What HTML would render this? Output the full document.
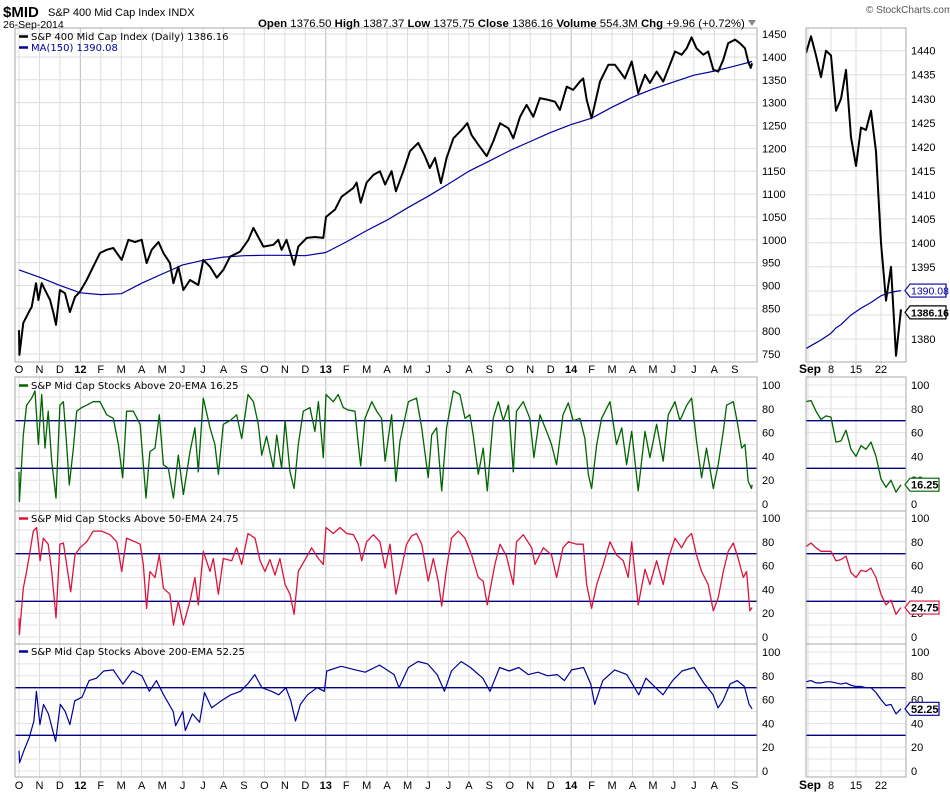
<!DOCTYPE html>
<html><head><meta charset="utf-8"><style>
body{margin:0;background:#fff}
svg{display:block}
text{font-family:"Liberation Sans",sans-serif;font-size:11px;fill:#000}
.lg{font-family:"DejaVu Sans",sans-serif;font-size:10px}
</style></head><body>
<svg id="c" width="950" height="795" viewBox="0 0 950 795" xmlns="http://www.w3.org/2000/svg">
<defs>
<clipPath id="clipL"><rect x="15" y="28" width="742" height="750"/></clipPath>
<clipPath id="clipR"><rect x="806" y="28" width="100" height="750"/></clipPath>
</defs>
<g id="grid"></g>
<g id="lines"></g>
<g id="frames"></g>
<g id="labels"></g>
<text x="3" y="17" style="font-size:15px;font-weight:bold">$MID</text>
<text x="48" y="16" style="font-size:11px">S&amp;P 400 Mid Cap Index INDX</text>
<text x="3" y="28" style="font-size:10.5px">26-Sep-2014</text>
<text x="258" y="27" style="font-size:11.4px"><tspan font-weight="bold">Open</tspan> 1376.50 <tspan font-weight="bold">High</tspan> 1387.37 <tspan font-weight="bold">Low</tspan> 1375.75 <tspan font-weight="bold">Close</tspan> 1386.16 <tspan font-weight="bold">Volume</tspan> 554.3M <tspan font-weight="bold">Chg</tspan> +9.96 (+0.72%)</text>
<polygon points="748,20 756,20 752,26" fill="#888"/>
<text x="866" y="13" style="font-size:10px;fill:#555">© StockCharts.com</text>
</svg>
<script>
// ---- data (t = months since 1-Oct-2011) ----
const priceT=[0,0.02,0.21,0.46,0.62,0.83,0.95,1.11,1.27,1.52,1.68,1.81,2.0,2.25,2.49,2.74,2.98,3.31,3.63,3.96,4.29,4.61,5.02,5.35,5.67,6.0,6.24,6.49,6.82,7.06,7.38,7.55,7.79,8.04,8.36,8.77,9.01,9.34,9.67,9.99,10.32,10.81,11.22,11.46,11.7,11.95,12.44,12.68,12.84,13.08,13.45,13.66,14.07,14.47,14.88,15.01,15.45,15.77,16.34,16.51,16.71,17.0,17.33,17.65,17.9,18.22,18.43,18.79,19.12,19.52,19.85,20.09,20.34,20.63,20.91,21.24,21.64,21.92,22.13,22.46,22.87,23.19,23.52,23.93,24.17,24.5,24.82,25.15,25.47,25.88,26.21,26.45,26.78,27.1,27.43,27.59,27.76,28.0,28.41,28.82,29.14,29.39,29.63,29.96,30.28,30.61,30.85,31.18,31.5,31.83,32.08,32.4,32.65,32.89,33.13,33.46,33.7,33.95,34.19,34.44,34.68,35.01,35.25,35.5,35.66,35.78,35.85];
const priceV=[802,748,818,840,853,905,868,905,890,868,840,814,890,883,842,875,886,912,941,971,978,982,956,1000,995,1000,949,978,995,971,949,905,941,890,912,901,956,941,917,934,963,974,1000,1026,1006,985,989,1000,978,1000,945,985,1004,1006,1004,1050,1066,1094,1113,1125,1081,1125,1142,1150,1121,1150,1106,1150,1194,1212,1183,1157,1179,1124,1179,1222,1240,1255,1229,1208,1183,1215,1255,1244,1222,1269,1295,1269,1310,1306,1302,1284,1335,1328,1346,1353,1306,1266,1346,1383,1383,1368,1353,1390,1321,1361,1343,1368,1346,1383,1412,1405,1419,1443,1419,1405,1412,1372,1368,1394,1430,1438,1430,1419,1390,1376,1386];
const maT=[0,1,2,3,4,5,6,7,8,9,10,11,12,13,14,15,16,17,18,19,20,21,22,23,24,25,26,27,28,29,30,31,32,33,34,35,35.85];
const maV=[934,918,900,884,880,882,905,925,945,955,962,965,966,966,965,972,995,1020,1043,1070,1095,1122,1150,1172,1195,1215,1235,1252,1266,1290,1312,1330,1345,1360,1369,1380,1390];
const e20T=[0,0.02,0.21,0.37,0.62,0.78,0.95,1.11,1.27,1.43,1.6,1.81,2.0,2.17,2.33,2.46,2.66,2.82,3.06,3.31,3.63,3.96,4.29,4.61,4.86,5.07,5.26,5.59,5.92,6.21,6.4,6.65,6.86,7.06,7.3,7.55,7.79,8.04,8.36,8.6,8.77,9.01,9.34,9.58,9.75,9.99,10.32,10.64,10.89,11.2,11.46,11.7,11.87,12.11,12.44,12.6,12.84,13.01,13.25,13.45,13.66,13.9,14.23,14.47,14.64,14.88,15.01,15.37,15.61,15.86,16.1,16.43,16.59,16.71,16.92,17.25,17.49,17.73,17.9,18.22,18.43,18.63,19.04,19.44,19.69,20.01,20.18,20.42,20.67,20.91,21.24,21.56,21.81,22.05,22.21,22.46,22.7,22.9,23.19,23.44,23.68,23.93,24.17,24.33,24.66,24.98,25.18,25.47,25.8,26.04,26.29,26.6,26.86,27.1,27.43,27.67,27.84,28.0,28.25,28.49,28.9,29.22,29.47,29.71,29.96,30.28,30.61,30.85,31.18,31.5,31.75,32.08,32.32,32.65,32.89,33.13,33.38,33.62,33.95,34.19,34.44,34.6,34.93,35.09,35.34,35.5,35.66,35.82,35.85];
const e20V=[27,2,58,83,89,95,50,92,47,78,36,5,83,86,50,16,47,78,81,83,86,86,75,72,50,22,78,78,67,5,44,47,75,33,30,5,41,8,44,64,27,89,64,50,25,67,70,75,55,92,86,67,41,57,30,58,30,70,27,13,50,78,81,61,86,39,92,86,92,81,79,78,50,32,72,86,78,72,36,75,19,53,86,89,64,22,58,64,11,64,95,92,72,75,58,25,47,11,72,86,70,83,27,78,86,72,39,75,61,50,33,75,85,70,72,55,25,13,50,72,86,50,64,33,61,11,61,39,67,36,75,86,70,83,89,53,22,47,13,33,61,83,86,72,47,50,19,13,16.25];
const e50T=[0,0.02,0.21,0.37,0.54,0.7,0.86,1.03,1.19,1.43,1.6,1.81,2.0,2.17,2.33,2.53,2.74,2.98,3.31,3.63,4.04,4.45,4.78,5.02,5.26,5.67,5.92,6.08,6.24,6.4,6.65,6.86,7.06,7.38,7.55,7.79,8.04,8.36,8.6,8.77,9.01,9.34,9.5,9.75,9.99,10.4,10.64,10.89,11.2,11.54,11.79,12.03,12.27,12.52,12.76,13.01,13.25,13.45,13.66,13.99,14.31,14.64,14.88,15.01,15.37,15.7,16.02,16.35,16.59,16.76,17.0,17.33,17.65,17.9,18.14,18.43,18.71,18.95,19.2,19.44,19.69,20.01,20.26,20.5,20.67,20.91,21.15,21.48,21.81,22.13,22.46,22.7,22.9,23.27,23.52,23.84,24.17,24.33,24.66,25.07,25.23,25.64,26.04,26.29,26.6,26.86,27.27,27.59,27.76,28.0,28.25,28.57,28.9,29.22,29.55,29.79,29.96,30.28,30.61,30.85,31.18,31.5,31.75,32.08,32.4,32.65,32.89,33.13,33.38,33.7,33.95,34.19,34.44,34.68,34.93,35.17,35.42,35.58,35.74,35.85];
const e50V=[16,2,41,55,72,89,92,64,83,78,55,16,78,79,61,38,69,75,80,89,89,86,80,55,83,80,78,61,24,55,50,69,41,36,10,30,10,30,50,27,72,55,66,36,66,64,75,61,87,83,64,55,65,52,66,44,36,19,55,65,75,66,61,92,87,92,87,86,78,64,80,86,80,58,78,36,58,78,85,87,78,47,66,47,26,58,83,89,83,69,50,47,27,61,78,68,44,80,86,75,61,75,69,50,75,80,78,78,44,24,44,61,80,69,64,50,80,27,57,44,64,44,66,83,75,83,87,69,55,44,22,33,55,72,79,66,50,55,22,24.75];
const e200T=[0,0.03,0.26,0.5,0.73,0.85,1.02,1.2,1.44,1.79,2.02,2.26,2.49,2.73,3.08,3.43,3.79,4.14,4.61,5.08,5.55,6.01,6.37,6.72,7.07,7.54,7.66,8.01,8.13,8.48,8.83,9.07,9.42,9.89,10.36,10.83,11.18,11.53,11.88,12.35,12.7,13.05,13.29,13.52,13.76,14.11,14.58,14.93,15.05,15.75,16.46,16.93,17.63,18.34,18.58,19.04,19.51,19.98,20.45,20.8,21.15,21.62,22.08,22.68,23.03,23.5,23.97,24.44,24.91,25.38,25.85,26.32,26.67,27.02,27.61,27.96,28.15,28.55,29.13,29.72,30.31,30.66,31.13,31.49,31.96,32.42,33.01,33.48,33.94,34.18,34.42,34.77,35.12,35.47,35.7,35.85];
const e200V=[17,7,18,28,42,67,39,56,48,25,56,50,39,59,62,76,78,84,85,73,84,80,67,76,64,50,38,50,34,48,41,66,53,59,64,67,73,81,70,67,64,70,59,42,56,64,70,67,84,88,85,83,89,81,70,87,92,90,81,67,84,92,87,78,67,87,84,87,81,83,80,81,76,85,87,73,56,76,85,81,64,78,70,64,76,84,87,74,64,53,59,73,76,71,56,52.25];
// Sep 2014 detail (daily, Aug 29 .. Sep 26)
const sepPrice=[1439.5,1443,1439,1434.5,1440,1439,1427.5,1430,1436,1422,1416,1424,1423.5,1427.5,1419,1400,1388,1395,1376.5,1386.16];
const sepMA=[1378,1378.6,1379.2,1379.8,1380.5,1381.2,1382.3,1383,1384,1385,1385.7,1386.4,1387,1387.6,1388.3,1389,1389.4,1389.7,1389.9,1390.08];
const sep20=[86,87,78,71,74,73,52,53,62,46,40,49,46,52,40,21,14,20,10,16.25];
const sep50=[76,79,75,72,72,72,64,65,68,54,50,56,55,58,50,36,27,31,19,24.75];
const sep200=[75,76,74,74,75,75,74,73,74,72,71,71,70,70,66,60,55,56,48,52.25];
const monthLabels=['O','N','D','12','F','M','A','M','J','J','A','S','O','N','D','13','F','M','A','M','J','J','A','S','O','N','D','14','F','M','A','M','J','J','A','S'];
const priceTicks=[750,800,850,900,950,1000,1050,1100,1150,1200,1250,1300,1350,1400,1450];
const sepPriceTicks=[1380,1385,1390,1395,1400,1405,1410,1415,1420,1425,1430,1435,1440];
const oscTicks=[0,20,40,60,80,100];
const sepDayLabels=['8','15','22'];
const sepDayIdx=[5,10,15];

// ---- axis functions ----
const xL=t=>19+t*20.45;
const yP=v=>354-(v-750)*0.457;
const xR=i=>806+i*5;
const yRP=v=>50.7+(1440-v)*4.805;
const oscTop=[385,518,652];
const yO=(p,v)=>oscTop[p]+(100-v)*1.19;

const NS='http://www.w3.org/2000/svg';
const G=id=>document.getElementById(id);
function mk(tag,attrs,parent){const e=document.createElementNS(NS,tag);for(const k in attrs)e.setAttribute(k,attrs[k]);G(parent).appendChild(e);return e;}

for(let m=0;m<monthLabels.length;m++){
  const x=xL(m);
  const yr=/\d/.test(monthLabels[m]);
  [[28,362],[377,777]].forEach(r=>{
    const l=mk('line',{x1:x,x2:x,y1:r[0],y2:r[1],stroke:yr?'#bbb':'#ddd','stroke-width':1},'grid');
    
    
  });
  const tx=mk('text',{x:x,y:373,'text-anchor':'middle','font-weight':yr?'bold':'normal'},'labels');
  tx.textContent=monthLabels[m];
  
  
  const tb=mk('text',{x:x,y:789,'text-anchor':'middle','font-weight':yr?'bold':'normal'},'labels');
  tb.textContent=monthLabels[m];
  
  
}
priceTicks.forEach(v=>{
  const l=mk('line',{x1:15,x2:757,y1:yP(v),y2:yP(v),stroke:'#ddd'},'grid');
  
  
  const t=mk('text',{x:762,y:yP(v)+4},'labels');
  t.textContent=v;
  
  
});
sepPriceTicks.forEach(v=>{
  const l=mk('line',{x1:806,x2:906,y1:yRP(v),y2:yRP(v),stroke:'#ddd'},'grid');
  
  
  const t=mk('text',{x:911,y:yRP(v)+4},'labels');
  t.textContent=v;
  
  
});
[0,1,2].forEach(p=>{
  for(let v=0;v<=100;v+=10){
    [[15,757],[806,906]].forEach(r=>{
      const l=mk('line',{x1:r[0],x2:r[1],y1:yO(p,v),y2:yO(p,v),stroke:'#e3e3e3'},'grid');
      
      
    });
  }
  oscTicks.forEach(v=>{
    [762,911].forEach(x=>{
      const t=mk('text',{x:x,y:yO(p,v)+4},'labels');
      t.textContent=v;
      
      
    });
  });
  [70,30].forEach(v=>{
    [[15,757],[806,906]].forEach(r=>{
      const l=mk('line',{x1:r[0],x2:r[1],y1:yO(p,v),y2:yO(p,v),stroke:'#000080','stroke-width':1.3},'lines');
      
      
    });
  });
});
[0].concat(sepDayIdx).forEach(i=>{
  const x=xR(i)+(i?0:2);
  const l=mk('line',{x1:x,x2:x,y1:28,y2:777,stroke:'#ddd'},'grid');
  
  
});
[373,789].forEach(y=>{
  const s=mk('text',{x:799,y:y,'font-weight':'bold','style':'font-size:12px'},'labels');
  s.textContent='Sep';
  
  
  sepDayIdx.forEach((i,k)=>{
    const t=mk('text',{x:xR(i),y:y,'text-anchor':'middle'},'labels');
    t.textContent=sepDayLabels[k];
    
    
  });
});

function path(ts,vs,fx,fy,color,w,name,clip){
  let d='';
  for(let i=0;i<vs.length;i++){d+=(i?'L':'M')+fx(ts?ts[i]:i).toFixed(1)+','+fy(vs[i]).toFixed(1);}
  const p=mk('path',{d:d,fill:'none',stroke:color,'stroke-width':w,'stroke-linejoin':'round','clip-path':'url(#'+clip+')'},'lines');
  
  
}
path(maT,maV,xL,yP,'#0000a0',1.2,'ma150-line','clipL');
path(priceT,priceV,xL,yP,'#000',2,'price-line','clipL');
path(e20T,e20V,xL,v=>yO(0,v),'#006400',1.3,'ema20-line','clipL');
path(e50T,e50V,xL,v=>yO(1,v),'#dc143c',1.3,'ema50-line','clipL');
path(e200T,e200V,xL,v=>yO(2,v),'#000099',1.2,'ema200-line','clipL');
path(null,sepMA,xR,yRP,'#0000a0',1.2,'sep-ma150-line','clipR');
path(null,sepPrice,xR,yRP,'#000',2,'sep-price-line','clipR');
path(null,sep20,xR,v=>yO(0,v),'#006400',1.3,'sep-ema20-line','clipR');
path(null,sep50,xR,v=>yO(1,v),'#dc143c',1.3,'sep-ema50-line','clipR');
path(null,sep200,xR,v=>yO(2,v),'#000099',1.2,'sep-ema200-line','clipR');

[[15,28,742,334],[15,377,742,134],[15,511,742,133],[15,644,742,133],[806,28,100,334],[806,377,100,134],[806,511,100,133],[806,644,100,133]].forEach(r=>{
  const f=mk('rect',{x:r[0],y:r[1],width:r[2],height:r[3],fill:'none',stroke:'#aaa'},'frames');
  
  
});

function legend(y,swatch,color,txt,name){
  const l=mk('line',{x1:19,x2:28,y1:y-3.5,y2:y-3.5,stroke:swatch,'stroke-width':2.5},'labels');
  
  
  const t=mk('text',{x:31,y:y,class:'lg'},'labels');
  t.setAttribute('style','fill:'+color);
  t.textContent=txt;
  
  
}
legend(40,'#000','#000','S&P 400 Mid Cap Index (Daily) 1386.16','legend-price');
legend(51,'#0000a0','#0000a0','MA(150) 1390.08','legend-ma150');
legend(389,'#006400','#000','S&P Mid Cap Stocks Above 20-EMA 16.25','legend-ema20');
legend(522,'#dc143c','#000','S&P Mid Cap Stocks Above 50-EMA 24.75','legend-ema50');
legend(655,'#000099','#000','S&P Mid Cap Stocks Above 200-EMA 52.25','legend-ema200');

function tag(y,txt,color,bold,name){
  const g=mk('g',{},'labels');
  
  
  const w=txt.length>5?36:29;
  const p=document.createElementNS(NS,'path');
  p.setAttribute('d','M905,'+y+' L910,'+(y-6.5)+' L'+(910+w)+','+(y-6.5)+' L'+(910+w)+','+(y+6.5)+' L910,'+(y+6.5)+' Z');
  p.setAttribute('fill','#fff');p.setAttribute('stroke',color);p.setAttribute('stroke-width',1.2);
  g.appendChild(p);
  const t=document.createElementNS(NS,'text');
  t.setAttribute('x',911);t.setAttribute('y',y+4);
  t.setAttribute('style','font-size:'+(txt.length>5?'10.5':'11')+'px;font-weight:'+(bold?'bold':'normal')+';fill:'+(bold?'#000':color));
  t.textContent=txt;g.appendChild(t);
}
tag(yRP(1390.08),'1390.08','#0000a0',false,'ma150-value-tag');
tag(yRP(1386.16)+3,'1386.16','#000',true,'price-value-tag');
tag(yO(0,16.25),'16.25','#006400',true,'ema20-value-tag');
tag(yO(1,24.75),'24.75','#dc143c',true,'ema50-value-tag');
tag(yO(2,52.25),'52.25','#000099',true,'ema200-value-tag');
</script>
</body></html>
